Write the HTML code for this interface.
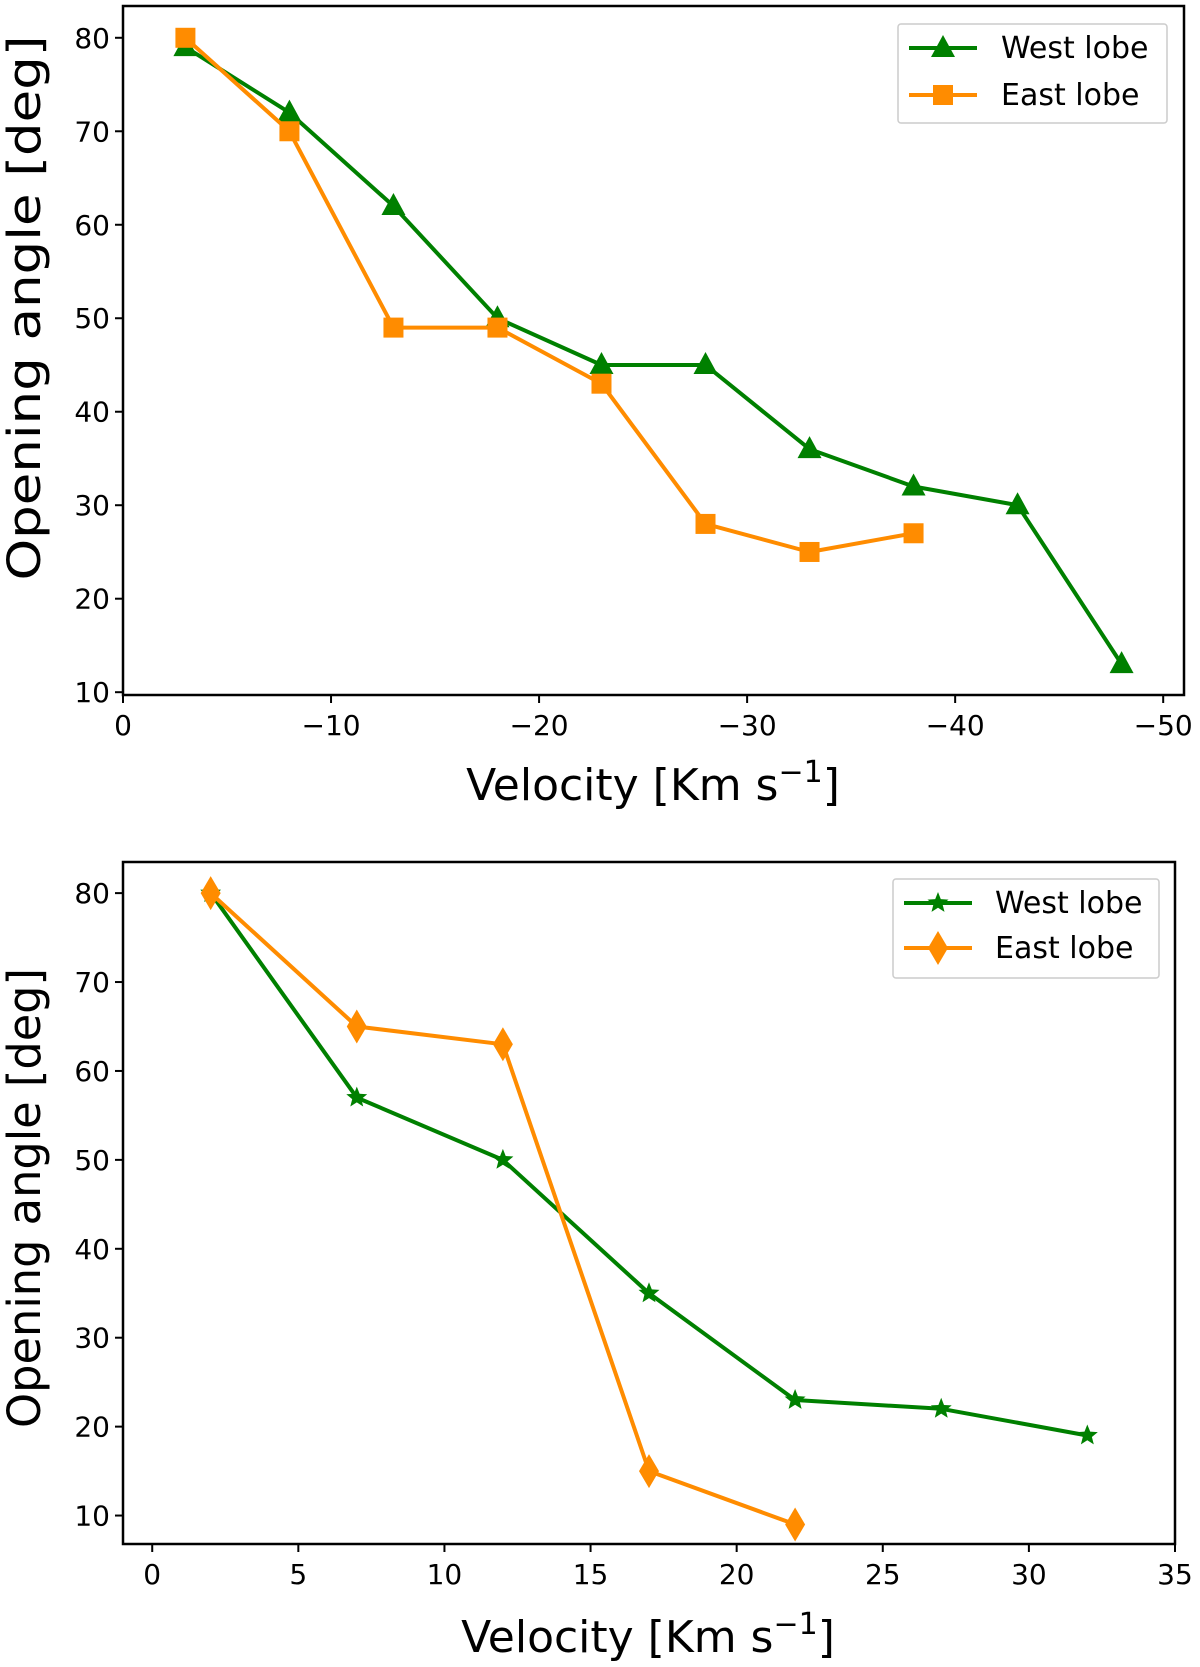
<!DOCTYPE html>
<html><head><meta charset="utf-8"><style>
html,body{margin:0;padding:0;background:#fff}
svg{display:block;font-family:"DejaVu Sans","Liberation Sans",sans-serif}
</style></head><body>
<svg id="chart" width="1200" height="1667" viewBox="0 0 1200 1667"></svg>
<script>
// Top panel data
const topXWest=[-3,-8,-13,-18,-23,-28,-33,-38,-43,-48];
const topYWest=[79,72,62,50,45,45,36,32,30,13];
const topXEast=[-3,-8,-13,-18,-23,-28,-33,-38];
const topYEast=[80,70,49,49,43,28,25,27];
const topXTicks=[0,-10,-20,-30,-40,-50];
const topXTickLabels=["0","\u221210","\u221220","\u221230","\u221240","\u221250"];
const topYTicks=[10,20,30,40,50,60,70,80];
// Bottom panel data
const botXWest=[2,7,12,17,22,27,32];
const botYWest=[80,57,50,35,23,22,19];
const botXEast=[2,7,12,17,22];
const botYEast=[80,65,63,15,9];
const botXTicks=[0,5,10,15,20,25,30,35];
const botYTicks=[10,20,30,40,50,60,70,80];

const NS="http://www.w3.org/2000/svg";
const svg=document.getElementById('chart');
function mk(tag,attrs,parent){const e=document.createElementNS(NS,tag);for(const k in attrs)e.setAttribute(k,attrs[k]);(parent||svg).appendChild(e);return e;}
const GREEN="#008000",ORANGE="#ff8c00";

function marker(g,type,x,y,color){
  let e;
  if(type==='tri'){e=mk('polygon',{points:`${x},${y-13} ${x-12},${y+9} ${x+12},${y+9}`,fill:color},g);}
  else if(type==='sq'){e=mk('rect',{x:x-10,y:y-10,width:20,height:20,fill:color},g);}
  else if(type==='star'){let p=[];for(let i=0;i<10;i++){const r=i%2?4.8:11,a=-Math.PI/2+i*Math.PI/5;p.push((x+r*Math.cos(a)).toFixed(1)+','+(y+r*Math.sin(a)).toFixed(1));}e=mk('polygon',{points:p.join(' '),fill:color},g);}
  else {e=mk('polygon',{points:`${x},${y-17} ${x+10},${y} ${x},${y+17} ${x-10},${y}`,fill:color},g);}
  return e;
}

function panel(cfg){
  const g=mk('g',{});
  
  
  const sx=v=>cfg.L+(v-cfg.x0)/(cfg.x1-cfg.x0)*(cfg.R-cfg.L);
  const sy=v=>cfg.B-(v-cfg.y0)/(cfg.y1-cfg.y0)*(cfg.B-cfg.T);
  cfg.xt.forEach((t,i)=>{
    const x=sx(t);
    const tk=mk('line',{x1:x,x2:x,y1:cfg.B,y2:cfg.B+8,stroke:'#000','stroke-width':2},g);
    
    
    const lb=mk('text',{x:x,y:cfg.B+40,'font-size':28,'text-anchor':'middle',fill:'#000'},g);
    lb.textContent=cfg.xl?cfg.xl[i]:String(t);
    
    
  });
  cfg.yt.forEach(t=>{
    const y=sy(t);
    const tk=mk('line',{x1:cfg.L-8,x2:cfg.L,y1:y,y2:y,stroke:'#000','stroke-width':2},g);
    
    
    const lb=mk('text',{x:cfg.L-13,y:y+10,'font-size':28,'text-anchor':'end',fill:'#000'},g);
    lb.textContent=String(t);
    
    
  });
  cfg.series.forEach(s=>{
    const sg=mk('g',{},g);
    
    
    const pts=s.x.map((v,i)=>sx(v).toFixed(1)+','+sy(s.y[i]).toFixed(1)).join(' ');
    const pl=mk('polyline',{points:pts,fill:'none',stroke:s.color,'stroke-width':4,'stroke-linejoin':'round'},sg);
    
    
    s.x.forEach((v,i)=>{
      const m=marker(sg,s.marker,sx(v),sy(s.y[i]),s.color);
      
      
    });
  });
  const fr=mk('rect',{x:cfg.L,y:cfg.T,width:cfg.R-cfg.L,height:cfg.B-cfg.T,fill:'none',stroke:'#000','stroke-width':2.5},g);
  
  
  const xl=mk('text',{x:cfg.xlx,y:cfg.xly,'font-size':44,'text-anchor':'middle',fill:'#000'},g);
  xl.innerHTML='Velocity [Km s<tspan dy="-18" font-size="30">\u22121</tspan><tspan dy="18">]</tspan>';
  
  
  const yl=mk('text',{x:0,y:0,'font-size':45,'text-anchor':'middle',fill:'#000',textLength:cfg.yll,lengthAdjust:'spacingAndGlyphs',transform:`translate(${cfg.ylx},${cfg.yly}) rotate(-90)`},g);
  yl.textContent='Opening angle [deg]';
  
  
  const lg=mk('g',{},g);
  
  
  const lgb=mk('rect',{x:cfg.lg.x,y:cfg.lg.y,width:cfg.lg.w,height:cfg.lg.h,fill:'#fff',stroke:'#ccc','stroke-width':1.5,rx:3},lg);
  
  
  cfg.series.forEach((s,i)=>{
    const y=cfg.lg.rows[i];
    const ln=mk('line',{x1:cfg.lg.x+11,x2:cfg.lg.x+79,y1:y,y2:y,stroke:s.color,'stroke-width':4},lg);
    
    
    const m=marker(lg,s.marker,cfg.lg.x+45,y,s.color);
    
    
    const t=mk('text',{x:cfg.lg.tx,y:y+10,'font-size':30,fill:'#000'},lg);
    t.textContent=s.label;
    
    
  });
}

panel({name:'top-panel',L:123,R:1184,T:6,B:695,x0:0,x1:-51,y0:9.7,y1:83.4,
  xt:topXTicks,xl:topXTickLabels,yt:topYTicks,xlx:653,xly:800,ylx:40,yly:308,yll:545,
  lg:{x:898,y:24,w:269,h:99,rows:[48,95],tx:1001},
  series:[{name:'west-lobe-series',label:'West lobe',x:topXWest,y:topYWest,color:GREEN,marker:'tri'},
          {name:'east-lobe-series',label:'East lobe',x:topXEast,y:topYEast,color:ORANGE,marker:'sq'}]});

panel({name:'bottom-panel',L:123,R:1175,T:862,B:1544,x0:-1,x1:35,y0:6.8,y1:83.5,
  xt:botXTicks,yt:botYTicks,xlx:648,xly:1652,ylx:40,yly:1198,yll:460,
  lg:{x:893,y:879,w:266,h:99,rows:[903,948],tx:995},
  series:[{name:'west-lobe-series',label:'West lobe',x:botXWest,y:botYWest,color:GREEN,marker:'star'},
          {name:'east-lobe-series',label:'East lobe',x:botXEast,y:botYEast,color:ORANGE,marker:'dia'}]});
</script>
</body></html>
